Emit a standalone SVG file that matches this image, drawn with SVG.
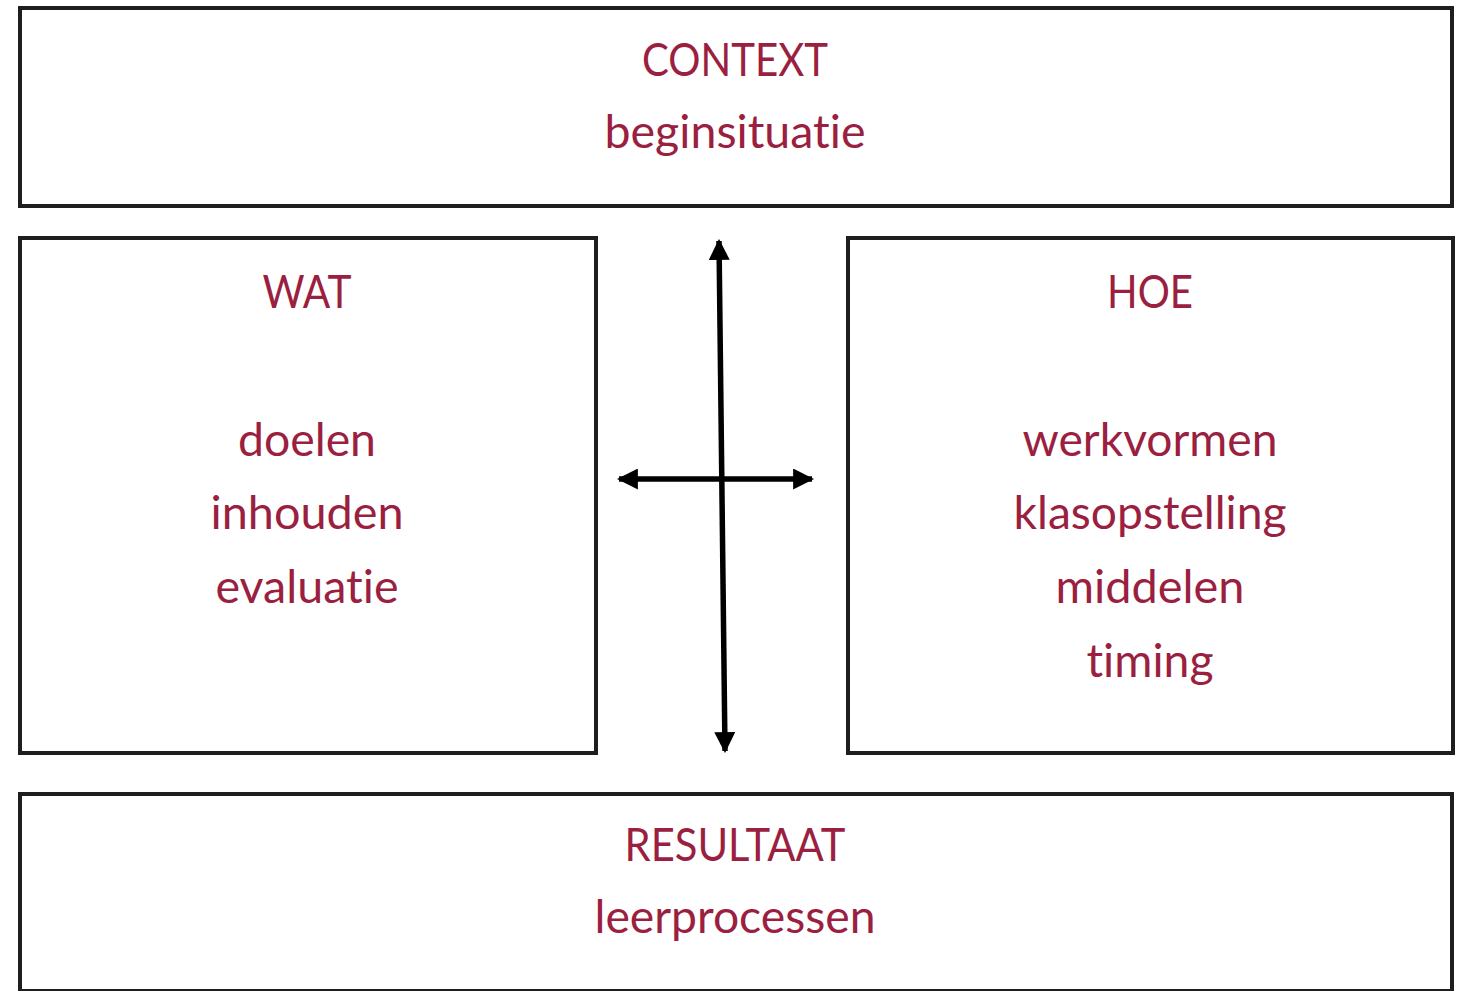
<svg xmlns="http://www.w3.org/2000/svg" width="1463" height="991" viewBox="0 0 1463 991">
<defs>
<style>
.box{fill:#fff;stroke:#1e1e1e;stroke-width:4}
.t{font-family:Lato,"Open Sans","Liberation Sans",sans-serif;font-size:46px;fill:#9a1f40;text-anchor:middle;font-variant-ligatures:none;font-feature-settings:"liga" 0,"clig" 0}
.arr{stroke:#000;stroke-width:5.5;fill:none}
</style>
<marker id="ah" viewBox="0 0 10 10" refX="9" refY="5" markerWidth="21" markerHeight="21" markerUnits="userSpaceOnUse" orient="auto-start-reverse">
<path d="M0,0 L10,5 L0,10 z" fill="#000"/>
</marker>
</defs>
<rect width="1463" height="991" fill="#fff"/>
<g id="context">
<rect class="box" x="20" y="8" width="1432" height="198"/>
<text class="t" x="735" y="76" textLength="186" lengthAdjust="spacingAndGlyphs">CONTEXT</text>
<text class="t" x="735" y="148" textLength="261" lengthAdjust="spacingAndGlyphs">beginsituatie</text>
</g>
<g id="wat">
<rect class="box" x="20" y="238" width="576" height="515"/>
<text class="t" x="307" y="308" textLength="89" lengthAdjust="spacingAndGlyphs">WAT</text>
<text class="t" x="307" y="456" textLength="138" lengthAdjust="spacingAndGlyphs">doelen</text>
<text class="t" x="307" y="529" textLength="193" lengthAdjust="spacingAndGlyphs">inhouden</text>
<text class="t" x="307" y="603" textLength="183" lengthAdjust="spacingAndGlyphs">evaluatie</text>
</g>
<g id="hoe">
<rect class="box" x="848" y="238" width="605" height="515"/>
<text class="t" x="1150" y="308" textLength="86" lengthAdjust="spacingAndGlyphs">HOE</text>
<text class="t" x="1150" y="456" textLength="255" lengthAdjust="spacingAndGlyphs">werkvormen</text>
<text class="t" x="1150" y="529" textLength="273" lengthAdjust="spacingAndGlyphs">klasopstelling</text>
<text class="t" x="1150" y="603" textLength="189" lengthAdjust="spacingAndGlyphs">middelen</text>
<text class="t" x="1150" y="677" textLength="127" lengthAdjust="spacingAndGlyphs">timing</text>
</g>
<g id="resultaat">
<rect class="box" x="20" y="794" width="1432" height="197"/>
<text class="t" x="735" y="861" textLength="221" lengthAdjust="spacingAndGlyphs">RESULTAAT</text>
<text class="t" x="735" y="933" textLength="281" lengthAdjust="spacingAndGlyphs">leerprocessen</text>
</g>
<g id="connectors">
<line class="arr" x1="719" y1="241" x2="725" y2="751" marker-start="url(#ah)" marker-end="url(#ah)"/>
<line class="arr" x1="619" y1="479" x2="812" y2="479" marker-start="url(#ah)" marker-end="url(#ah)"/>
</g>
</svg>
